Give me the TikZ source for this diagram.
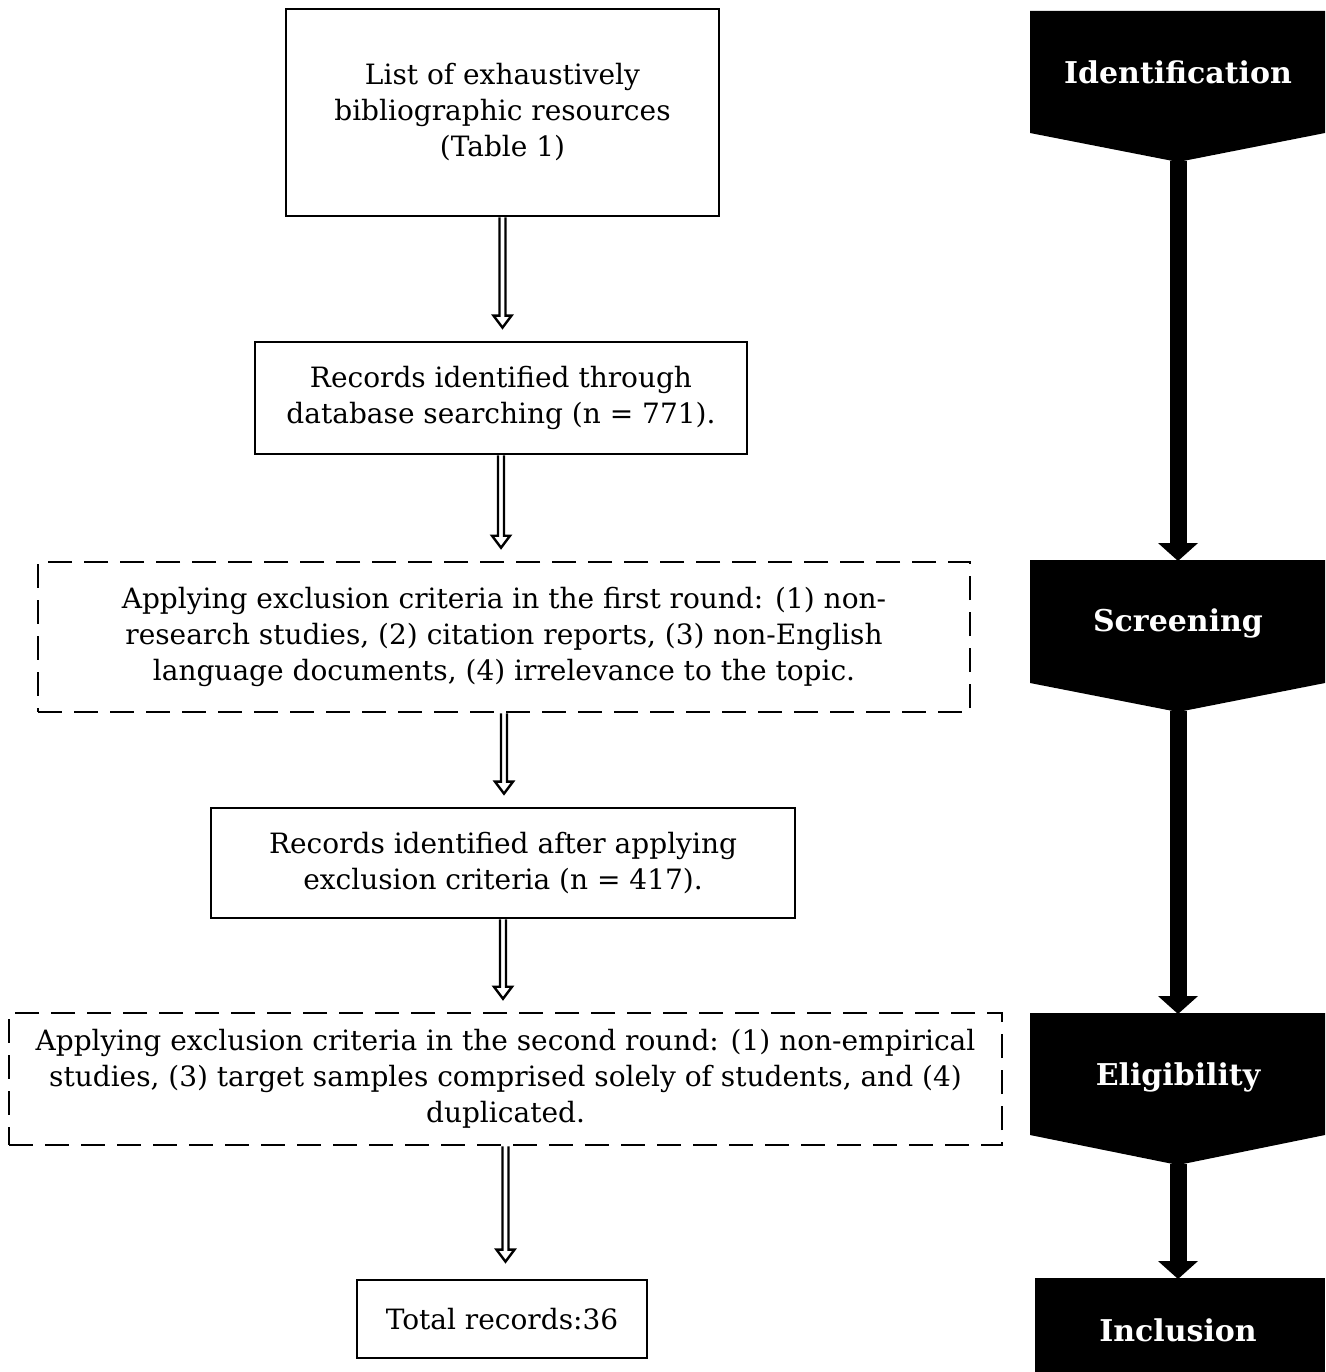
\documentclass[tikz,border=0pt]{standalone}
\usepackage{fontspec}
\setmainfont{DejaVu Serif}
\usetikzlibrary{arrows.meta,calc}
\tikzset{
  solidbox/.style={draw, line width=2.8pt, align=center, inner sep=0pt},
  dashbox/.style={draw, line width=2.5pt, dash pattern=on 24pt off 12pt, align=center, inner sep=0pt},
  txt/.style={font=\fontsize{28}{36}\selectfont},
  phasefill/.style={fill=black},
  phaselabel/.style={text=white, inner sep=0pt, font=\bfseries\fontsize{30}{34}\selectfont},
  bigarrow/.style={line width=17pt, -{Triangle[width=39pt 0, length=18pt 0]}},
  hollow/.style={line width=2.4pt, line join=miter},
}
\newcommand\hollowarrow[2]{%
  \draw[hollow] let \p1=(#1), \p2=(#2) in
    (\x1-3pt,\y1) -- (\x1-3pt,\y2+12pt) -- (\x1-9pt,\y2+12pt) -- (\x1,\y2)
    -- (\x1+9pt,\y2+12pt) -- (\x1+3pt,\y2+12pt) -- (\x1+3pt,\y1);}
\begin{document}
\begin{tikzpicture}[x=1pt,y=-1pt]
\useasboundingbox (0,0) rectangle (1325,1372);
% flow boxes
\node[solidbox, txt, minimum width=433pt, minimum height=207pt] (b1) at (502.5,112.5)
  {List of exhaustively\\bibliographic resources\\(Table 1)};
\node[solidbox, txt, minimum width=492pt, minimum height=112pt] (b2) at (501,398)
  {Records identified through\\database searching (n = 771).};
\node[dashbox, txt, minimum width=932pt, minimum height=150pt] (b3) at (504,637)
  {Applying exclusion criteria in the first round: (1) non-\\research studies, (2) citation reports, (3) non-English\\language documents, (4) irrelevance to the topic.};
\node[solidbox, txt, minimum width=584pt, minimum height=110pt] (b4) at (503,863)
  {Records identified after applying\\exclusion criteria (n = 417).};
\node[dashbox, txt, minimum width=993pt, minimum height=132pt] (b5) at (505.5,1079)
  {Applying exclusion criteria in the second round: (1) non-empirical\\studies, (3) target samples comprised solely of students, and (4)\\duplicated.};
\node[solidbox, txt, minimum width=290pt, minimum height=78pt] (b6) at (502,1319)
  {Total records:36};
% arrow end points
\coordinate (e2) at ($(b2.north)+(0,-13)$);
\coordinate (e3) at ($(b3.north)+(0,-13)$);
\coordinate (e4) at ($(b4.north)+(0,-13)$);
\coordinate (e5) at ($(b5.north)+(0,-13)$);
\coordinate (e6) at ($(b6.north)+(0,-17)$);
\hollowarrow{b1.south}{e2}
\hollowarrow{b2.south}{e3}
\hollowarrow{b3.south}{e4}
\hollowarrow{b4.south}{e5}
\hollowarrow{b5.south}{e6}
% phases
\fill[phasefill] (1030,11) -- (1325,11) -- (1325,133) -- (1178,162) -- (1030,133) -- cycle;
\fill[phasefill] (1030,560) -- (1325,560) -- (1325,683) -- (1178,712) -- (1030,683) -- cycle;
\fill[phasefill] (1030,1013) -- (1325,1013) -- (1325,1135) -- (1178,1165) -- (1030,1135) -- cycle;
\fill[phasefill] (1035,1278) rectangle (1325,1372);
\node[phaselabel] (p1) at (1178,72) {Identification};
\node[phaselabel] (p2) at (1178,623) {Screening};
\node[phaselabel] (p3) at (1178,1077) {Eligibility};
\node[phaselabel] (p4) at (1178,1330) {Inclusion};
\coordinate (p1out) at (1178,161);
\coordinate (p2in) at (1178,561);
\coordinate (p2out) at (1178,711);
\coordinate (p3in) at (1178,1014);
\coordinate (p3out) at (1178,1164);
\coordinate (p4in) at (1178,1279);
\draw[bigarrow] (p1out) -- (p2in);
\draw[bigarrow] (p2out) -- (p3in);
\draw[bigarrow] (p3out) -- (p4in);
\end{tikzpicture}
\end{document}
